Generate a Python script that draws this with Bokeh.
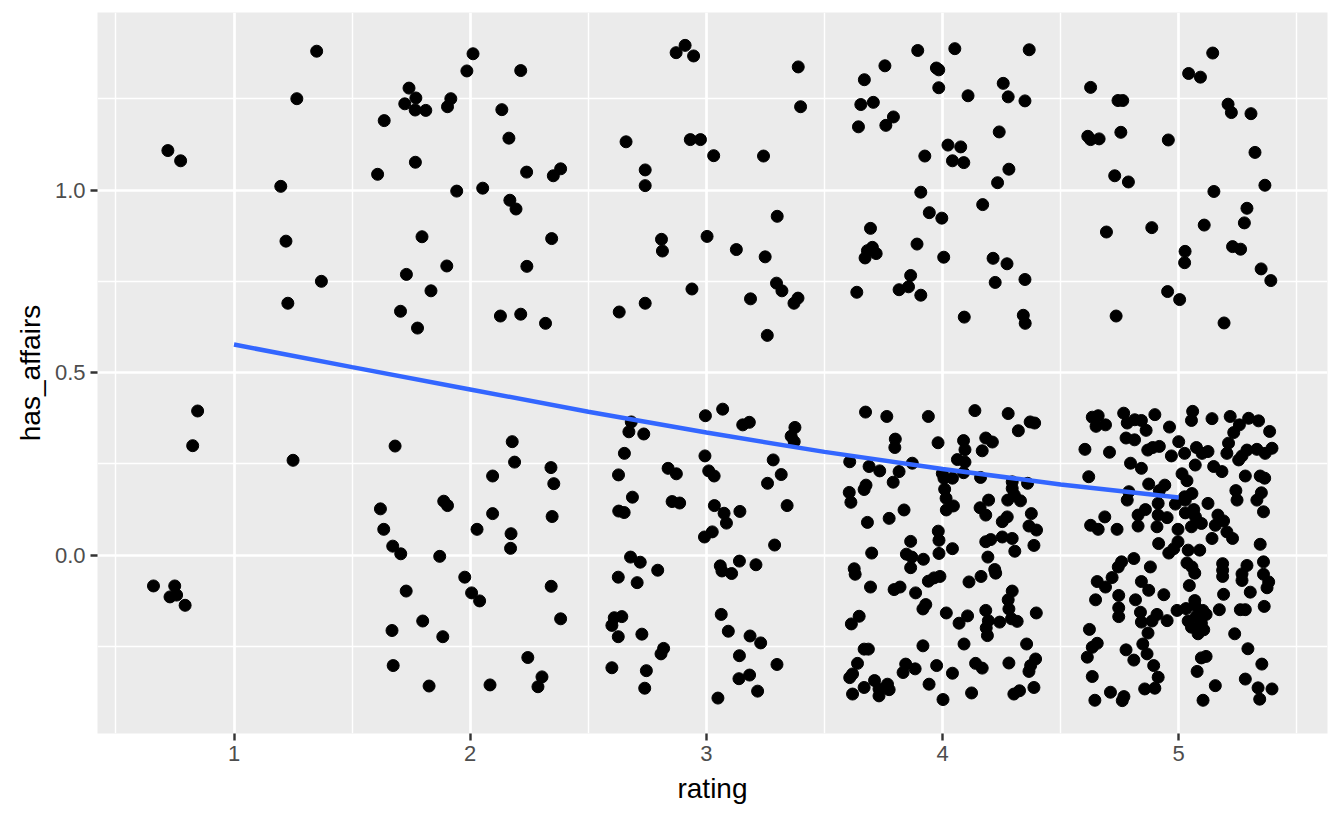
from bokeh.plotting import figure
from bokeh.models import Range1d, FixedTicker, NumeralTickFormatter
from bokeh.embed import file_html
from bokeh.resources import INLINE

# jittered (rating, has_affairs) points
rating1_yes = [(0.720, 1.108), (0.774, 1.080), (1.350, 1.380), (1.266, 1.250),
               (1.198, 1.010), (1.220, 0.860), (1.228, 0.690), (1.370, 0.750)]
rating1_no = [(0.846, 0.395), (0.825, 0.300), (1.250, 0.260), (0.659, -0.084),
              (0.749, -0.084), (0.729, -0.114), (0.757, -0.109), (0.793, -0.137)]

rating2_yes = [(2.012, 1.373), (1.986, 1.326), (2.214, 1.327), (1.741, 1.279), (1.770, 1.252),
               (1.723, 1.236), (1.767, 1.219), (1.812, 1.218), (1.918, 1.250), (1.904, 1.228),
               (2.134, 1.220), (1.636, 1.190), (2.164, 1.142), (1.768, 1.076), (1.608, 1.043),
               (2.239, 1.049), (2.383, 1.058), (2.352, 1.039), (1.943, 0.997), (2.053, 1.005),
               (2.168, 0.972), (2.194, 0.948), (1.796, 0.872), (2.345, 0.867), (1.901, 0.792),
               (2.240, 0.791), (1.730, 0.769), (1.834, 0.724), (1.705, 0.668), (2.128, 0.655),
               (2.214, 0.660), (2.319, 0.635), (1.777, 0.622)]
rating2_no = [(1.682, 0.299), (2.178, 0.311), (2.188, 0.255), (2.342, 0.240), (2.354, 0.196),
              (2.095, 0.217), (1.620, 0.127), (1.888, 0.148), (1.904, 0.136), (2.095, 0.114),
              (2.347, 0.106), (1.634, 0.071), (2.029, 0.071), (2.173, 0.059), (2.171, 0.019),
              (1.672, 0.025), (1.706, 0.004), (1.871, -0.003), (1.977, -0.060), (2.343, -0.085),
              (1.729, -0.098), (2.006, -0.103), (2.040, -0.125), (2.383, -0.174), (1.799, -0.180),
              (1.669, -0.206), (1.884, -0.223), (2.244, -0.280), (2.304, -0.333), (2.287, -0.360),
              (1.674, -0.302), (1.826, -0.358), (2.084, -0.355)]

rating3_yes = [(2.910, 1.396), (2.872, 1.376), (2.946, 1.367), (3.389, 1.337), (3.399, 1.228),
               (2.660, 1.132), (2.932, 1.138), (2.975, 1.138), (3.031, 1.094), (3.242, 1.093),
               (2.741, 1.055), (2.741, 1.012), (3.300, 0.928), (2.810, 0.865), (2.814, 0.833),
               (3.003, 0.873), (3.127, 0.837), (3.249, 0.817), (3.297, 0.745), (3.320, 0.724),
               (3.187, 0.702), (3.388, 0.704), (3.371, 0.690), (2.939, 0.729), (2.741, 0.690),
               (2.631, 0.666), (3.258, 0.602)]
rating3_no = [(3.069, 0.400), (2.996, 0.382), (2.682, 0.365), (2.672, 0.338), (2.735, 0.332),
              (3.154, 0.357), (3.182, 0.364), (3.375, 0.350), (3.359, 0.326), (3.372, 0.311),
              (2.653, 0.279), (2.994, 0.272), (3.283, 0.261), (2.628, 0.220), (2.838, 0.238),
              (2.873, 0.223), (3.010, 0.231), (3.033, 0.217), (3.317, 0.221), (3.259, 0.197),
              (2.687, 0.159), (2.629, 0.121), (2.652, 0.117), (2.855, 0.147), (2.887, 0.143),
              (3.034, 0.136), (3.075, 0.115), (3.142, 0.120), (3.085, 0.088), (3.342, 0.136),
              (3.025, 0.064), (2.992, 0.050), (3.289, 0.028), (2.679, -0.005), (2.720, -0.019),
              (2.794, -0.041), (2.627, -0.060), (2.707, -0.075), (3.059, -0.029), (3.066, -0.043),
              (3.107, -0.050), (3.140, -0.016), (3.210, -0.026), (2.610, -0.171), (2.642, -0.168),
              (2.600, -0.192), (2.627, -0.223), (2.727, -0.216), (3.063, -0.162), (3.093, -0.208),
              (3.185, -0.221), (3.230, -0.240), (2.819, -0.255), (2.808, -0.270), (2.600, -0.308),
              (2.746, -0.316), (2.739, -0.364), (3.140, -0.275), (3.138, -0.338), (3.183, -0.328),
              (3.299, -0.299), (3.217, -0.372), (3.049, -0.391)]

rating4_yes = [(3.895, 1.382), (4.052, 1.387), (4.367, 1.384), (3.756, 1.340), (3.974, 1.334),
               (3.984, 1.329), (3.669, 1.302), (3.984, 1.280), (4.257, 1.292), (4.108, 1.258),
               (4.278, 1.255), (4.349, 1.244), (3.654, 1.234), (3.707, 1.240), (3.792, 1.200),
               (3.760, 1.177), (3.644, 1.173), (4.240, 1.159), (4.023, 1.123), (4.077, 1.118),
               (3.925, 1.093), (4.042, 1.080), (4.090, 1.075), (4.281, 1.057), (4.233, 1.020),
               (3.908, 0.994), (4.170, 0.960), (3.944, 0.938), (3.997, 0.923), (3.695, 0.895),
               (3.703, 0.843), (3.682, 0.834), (3.719, 0.826), (3.672, 0.814), (3.892, 0.852),
               (4.005, 0.816), (4.214, 0.813), (4.273, 0.798), (3.865, 0.766), (3.856, 0.735),
               (3.816, 0.727), (3.908, 0.712), (3.637, 0.720), (4.223, 0.747), (4.349, 0.755),
               (4.092, 0.652), (4.342, 0.657), (4.350, 0.635)]
rating4_no = [(3.674, 0.392), (3.764, 0.380), (3.940, 0.380), (4.137, 0.396), (4.278, 0.388),
              (4.371, 0.365), (4.390, 0.362), (4.321, 0.341), (3.800, 0.318), (3.798, 0.295),
              (3.981, 0.308), (4.089, 0.314), (4.095, 0.289), (4.183, 0.321), (4.211, 0.310),
              (4.168, 0.286), (3.607, 0.256), (3.689, 0.243), (3.734, 0.231), (3.816, 0.229),
              (3.872, 0.252), (3.791, 0.200), (4.063, 0.262), (4.095, 0.255), (4.089, 0.226),
              (3.999, 0.224), (4.006, 0.211), (4.042, 0.211), (4.161, 0.213), (4.295, 0.201),
              (4.360, 0.197), (3.676, 0.192), (3.668, 0.180), (3.605, 0.172), (3.612, 0.145),
              (4.009, 0.181), (4.015, 0.156), (4.016, 0.124), (4.046, 0.135), (4.195, 0.151),
              (4.276, 0.151), (4.304, 0.165), (4.330, 0.149), (4.295, 0.183), (4.159, 0.130),
              (4.183, 0.110), (3.837, 0.124), (3.774, 0.101), (3.682, 0.090), (4.376, 0.114),
              (4.253, 0.092), (4.274, 0.105), (4.366, 0.080), (4.398, 0.069), (3.982, 0.066),
              (3.985, 0.041), (3.865, 0.038), (4.042, 0.018), (4.183, 0.037), (4.204, 0.043),
              (4.253, 0.050), (4.295, 0.046), (4.387, 0.027),
              (3.700, 0.006), (3.847, 0.003), (3.870, -0.005), (3.919, -0.011), (3.985, 0.005),
              (4.306, 0.011), (4.192, -0.005), (3.626, -0.037), (3.630, -0.052), (3.865, -0.034),
              (3.695, -0.087), (3.795, -0.094), (3.820, -0.087), (3.886, -0.103), (3.940, -0.071),
              (3.964, -0.062), (3.989, -0.058), (4.112, -0.073), (4.163, -0.058), (4.221, -0.039),
              (4.225, -0.049), (4.295, -0.098), (4.278, -0.122), (4.281, -0.147), (4.292, -0.174),
              (4.316, -0.181), (4.242, -0.183), (4.183, -0.151), (4.194, -0.179), (4.185, -0.199),
              (4.190, -0.220), (4.397, -0.158), (4.016, -0.158), (4.070, -0.186), (4.106, -0.166),
              (3.917, -0.147), (3.929, -0.135), (3.647, -0.167), (3.614, -0.188), (3.668, -0.257),
              (3.686, -0.257), (3.917, -0.248), (4.091, -0.243), (4.356, -0.243), (3.640, -0.296),
              (3.619, -0.325), (3.607, -0.335), (3.844, -0.298), (3.833, -0.321), (3.884, -0.311),
              (3.975, -0.302), (4.042, -0.323), (4.140, -0.296), (4.168, -0.309), (4.281, -0.295),
              (4.394, -0.284), (4.373, -0.302), (4.366, -0.318), (3.712, -0.343), (3.668, -0.362),
              (3.731, -0.366), (3.767, -0.353), (3.774, -0.368), (3.731, -0.385), (3.619, -0.380),
              (3.943, -0.353), (4.002, -0.395), (4.123, -0.377), (4.302, -0.380), (4.326, -0.371),
              (4.387, -0.362)]

rating5_yes = [(5.144, 1.375), (5.042, 1.319), (5.092, 1.309), (4.627, 1.281), (4.743, 1.245),
               (4.763, 1.245), (5.209, 1.235), (5.223, 1.212), (5.306, 1.209), (4.615, 1.147),
               (4.627, 1.138), (4.663, 1.140), (4.755, 1.158), (4.956, 1.137), (5.323, 1.103),
               (4.729, 1.039), (4.787, 1.022), (5.149, 0.996), (5.365, 1.013), (5.289, 0.950),
               (5.278, 0.910), (5.108, 0.904), (4.694, 0.885), (4.886, 0.897), (5.027, 0.832),
               (5.025, 0.801), (5.228, 0.845), (5.262, 0.838), (5.349, 0.784), (5.390, 0.752),
               (4.953, 0.722), (5.004, 0.700), (4.735, 0.655), (5.192, 0.636)]
rating5_no = [(4.634, 0.378), (4.659, 0.382), (4.650, 0.353), (4.690, 0.357), (4.767, 0.389),
              (4.782, 0.362), (4.814, 0.371), (4.842, 0.369), (4.899, 0.385), (4.862, 0.342),
              (4.777, 0.321), (4.813, 0.316), (4.961, 0.351), (4.603, 0.290), (4.707, 0.282),
              (4.869, 0.288), (4.890, 0.295), (4.918, 0.298), (4.969, 0.272), (5.000, 0.311),
              (5.025, 0.279), (5.059, 0.394), (5.054, 0.369), (5.141, 0.374), (5.218, 0.380),
              (5.075, 0.295), (5.099, 0.279), (5.124, 0.284), (5.211, 0.307), (5.204, 0.279),
              (5.233, 0.336), (5.257, 0.357), (5.296, 0.375), (5.338, 0.368), (5.385, 0.339),
              (5.268, 0.272), (5.289, 0.288), (5.331, 0.290), (5.366, 0.279), (5.395, 0.293),
              (5.254, 0.261), (4.796, 0.252), (4.842, 0.238), (5.070, 0.247), (5.148, 0.243),
              (5.183, 0.229), (4.619, 0.215), (5.014, 0.223), (5.035, 0.204), (4.873, 0.195),
              (4.941, 0.192), (4.918, 0.177), (4.789, 0.174), (5.282, 0.217), (5.345, 0.217),
              (5.364, 0.211), (5.242, 0.177), (5.350, 0.171), (5.056, 0.169), (5.025, 0.160),
              (4.782, 0.151), (4.913, 0.142), (4.986, 0.140), (5.028, 0.151), (5.124, 0.142),
              (5.247, 0.151), (5.331, 0.151), (4.828, 0.110), (4.859, 0.125), (4.687, 0.105),
              (4.627, 0.082), (4.659, 0.071), (4.739, 0.071), (4.828, 0.080), (4.913, 0.110),
              (4.951, 0.103), (4.908, 0.078), (4.997, 0.071), (5.028, 0.116), (5.064, 0.125),
              (5.071, 0.105), (5.054, 0.078), (5.096, 0.087), (5.166, 0.110), (5.190, 0.094),
              (5.155, 0.082), (5.204, 0.064), (5.228, 0.046), (5.141, 0.046), (5.359, 0.119),
              (4.915, 0.032), (4.997, 0.037), (4.958, 0.006), (4.979, 0.018), (5.040, 0.014),
              (5.089, 0.014), (5.345, 0.030), (4.810, -0.009), (4.758, -0.018), (4.744, -0.032),
              (4.880, -0.032), (5.035, -0.021), (5.056, -0.032), (5.068, -0.049), (5.186, -0.023),
              (5.186, -0.041), (5.186, -0.058), (5.289, -0.028), (5.268, -0.051), (5.268, -0.069),
              (5.359, -0.018), (5.359, -0.052), (5.381, -0.073), (5.374, -0.089), (4.718, -0.061),
              (4.655, -0.072), (4.690, -0.087), (4.842, -0.072), (4.873, -0.096), (5.045, -0.083),
              (5.303, -0.101), (5.190, -0.107), (4.746, -0.110), (4.648, -0.122), (4.817, -0.122),
              (4.937, -0.108), (5.068, -0.124),
              (4.746, -0.144), (4.746, -0.168), (4.838, -0.156), (4.842, -0.183), (4.908, -0.162),
              (4.887, -0.180), (4.951, -0.179), (4.870, -0.213), (4.993, -0.151), (5.031, -0.146),
              (5.068, -0.137), (5.102, -0.151), (5.116, -0.162), (5.040, -0.180), (5.073, -0.168),
              (5.054, -0.197), (5.096, -0.186), (5.106, -0.204), (5.082, -0.215), (5.172, -0.149),
              (5.261, -0.149), (5.282, -0.149), (5.362, -0.140), (5.237, -0.215), (4.622, -0.203),
              (4.655, -0.241), (4.634, -0.252), (4.613, -0.279), (4.777, -0.259), (4.810, -0.287),
              (4.848, -0.243), (4.866, -0.270), (4.894, -0.302), (4.913, -0.334), (4.856, -0.366),
              (4.899, -0.364), (4.634, -0.332), (4.711, -0.375), (4.768, -0.387), (4.761, -0.398),
              (4.645, -0.397), (5.116, -0.277), (5.096, -0.281), (5.078, -0.318), (5.155, -0.357),
              (5.103, -0.397), (5.293, -0.256), (5.352, -0.298), (5.282, -0.339), (5.336, -0.363),
              (5.395, -0.366), (5.343, -0.394)]

# fitted smooth
smooth_x = [1.0, 1.5, 2.0, 2.5, 3.0, 3.5, 4.0, 4.5, 5.0]
smooth_y = [0.577, 0.515, 0.454, 0.393, 0.336, 0.283, 0.236, 0.194, 0.158]

groups = [rating1_yes, rating1_no, rating2_yes, rating2_no, rating3_yes, rating3_no,
          rating4_yes, rating4_no, rating5_yes, rating5_no]
xs = [pt[0] for g in groups for pt in g]
ys = [pt[1] for g in groups for pt in g]

p = figure(width=1328, height=811, output_backend="svg", toolbar_location=None,
           x_range=Range1d(0.422, 5.63), y_range=Range1d(-0.488, 1.486),
           min_border_left=97, min_border_top=12, min_border_right=1, min_border_bottom=78)
p.background_fill_color = "#EBEBEB"
p.border_fill_color = "white"
p.outline_line_color = None

xticker = FixedTicker(ticks=[1, 2, 3, 4, 5], minor_ticks=[0.5, 1.5, 2.5, 3.5, 4.5, 5.5])
yticker = FixedTicker(ticks=[0.0, 0.5, 1.0], minor_ticks=[-0.25, 0.25, 0.75, 1.25])
p.xaxis.ticker = xticker
p.yaxis.ticker = yticker
p.xgrid.ticker = xticker
p.ygrid.ticker = yticker
p.yaxis.formatter = NumeralTickFormatter(format="0.0")

p.grid.grid_line_color = "white"
p.grid.grid_line_width = 2.7
p.grid.minor_grid_line_color = "white"
p.grid.minor_grid_line_width = 1.4

p.xaxis.axis_label = "rating"
p.yaxis.axis_label = "has_affairs"
p.axis.axis_line_color = None
p.axis.major_tick_line_color = "#333333"
p.axis.major_tick_line_width = 2.4
p.axis.major_tick_out = 7
p.axis.major_tick_in = 0
p.axis.minor_tick_line_color = None
p.axis.major_label_text_font = "Liberation Sans"
p.axis.major_label_text_font_size = "22px"
p.axis.major_label_text_color = "#4D4D4D"
p.xaxis.major_label_standoff = 5
p.yaxis.major_label_standoff = 5
p.axis.axis_label_text_font = "Liberation Sans"
p.axis.axis_label_text_font_size = "28px"
p.axis.axis_label_text_font_style = "normal"
p.axis.axis_label_text_color = "black"
p.xaxis.axis_label_standoff = 9
p.yaxis.axis_label_standoff = 6

p.scatter(xs, ys, size=12, color="black")
p.line(smooth_x, smooth_y, line_color="#3366FF", line_width=4.5)

open("out.html", "w").write(file_html(p, INLINE))
